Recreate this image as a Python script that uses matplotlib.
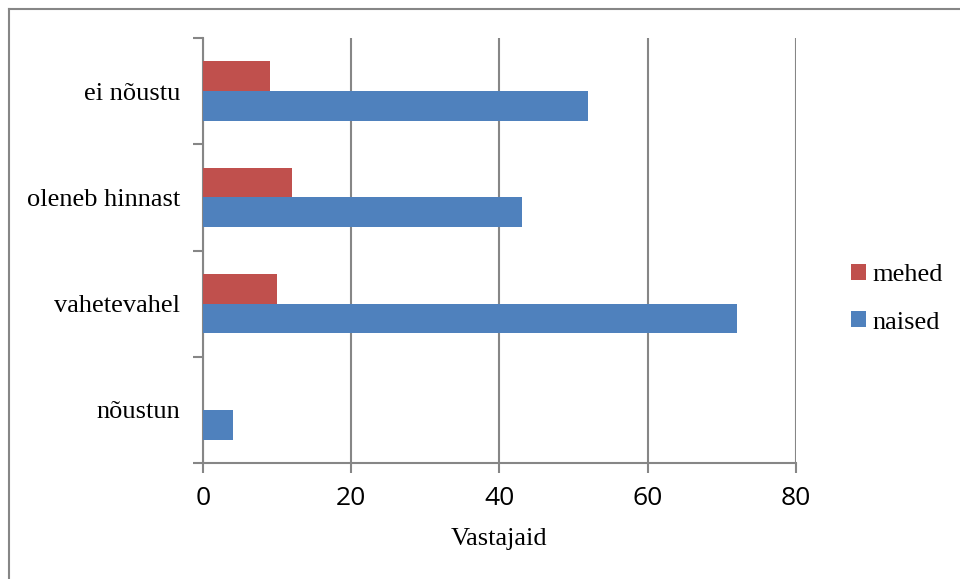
import matplotlib.pyplot as plt
from matplotlib.lines import Line2D
import numpy as np

categories = ['nõustun', 'vahetevahel', 'oleneb hinnast', 'ei nõustu']
mehed = [0, 10, 12, 9]
naised = [4, 72, 43, 52]
x_ticks = [0, 20, 40, 60, 80]

RED = '#C0504D'
BLUE = '#4F81BD'
GRID = '#868686'
SERIF = 'Liberation Serif'
SANS = 'Open Sans'

fig = plt.figure(figsize=(9.6, 5.79), dpi=100)
ax = fig.add_axes([0.2115, 0.2003, 0.829 - 0.2115, 0.9344 - 0.2003])

y = np.arange(len(categories))
h = 0.28
ax.barh(y + h / 2, mehed, height=h, color=RED, label='mehed', zorder=3)
ax.barh(y - h / 2, naised, height=h, color=BLUE, label='naised', zorder=3)

ax.set_xlim(0, 80)
ax.set_ylim(-0.5, len(categories) - 0.5)

# vertical gridlines, the last one doubles as the right frame
ax.set_xticks(x_ticks)
ax.set_xticklabels([str(v) for v in x_ticks], fontfamily=SANS, fontsize=19)
ax.grid(axis='x', color=GRID, linewidth=1.5, zorder=0)

# category boundaries carry the tick marks, names sit between them
ax.set_yticks(np.arange(-0.5, len(categories), 1.0))
ax.set_yticklabels([])
ax.set_yticks(y, minor=True)
ax.set_yticklabels(categories, minor=True, fontfamily=SERIF, fontsize=19)
ax.tick_params(axis='y', which='minor', length=0, pad=16.5)
ax.tick_params(axis='y', which='major', length=7, width=1.5, color=GRID)
ax.tick_params(axis='x', length=7, width=1.5, color=GRID, pad=9.5)

for side in ['top', 'right']:
    ax.spines[side].set_visible(False)
for side in ['left', 'bottom']:
    ax.spines[side].set_color(GRID)
    ax.spines[side].set_linewidth(1.5)

ax.set_xlabel('Vastajaid', fontfamily=SERIF, fontsize=19, labelpad=12.5)

handles, labels = ax.get_legend_handles_labels()
fig.legend(handles, labels, loc='center left', bbox_to_anchor=(0.8865, 0.484),
           frameon=False, prop={'family': SERIF, 'size': 19},
           handlelength=0.55, handleheight=0.55, handletextpad=0.25,
           labelspacing=0.95, borderaxespad=0, borderpad=0)

# outer frame of the chart area (top and left edges)
fig.add_artist(Line2D([8.5 / 960, 8.5 / 960], [0, 1 - 8.5 / 579],
                      transform=fig.transFigure, color=GRID, linewidth=1.5))
fig.add_artist(Line2D([8.5 / 960, 1], [1 - 8.5 / 579, 1 - 8.5 / 579],
                      transform=fig.transFigure, color=GRID, linewidth=1.5))

fig.savefig('out.png', dpi=100)
